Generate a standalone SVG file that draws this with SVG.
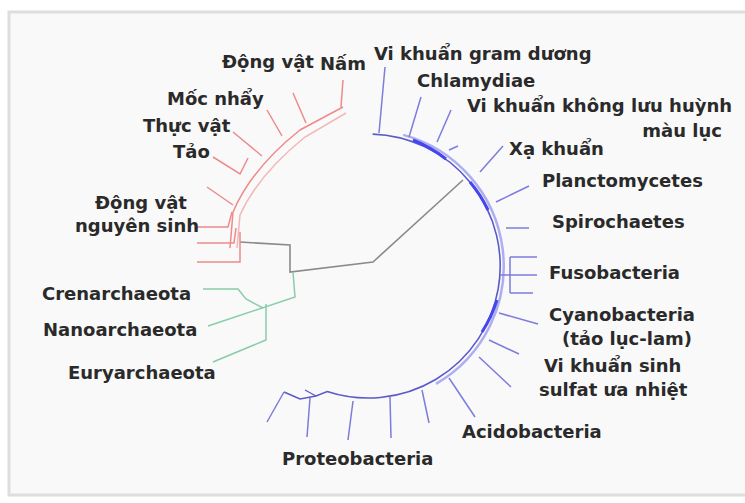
<svg xmlns="http://www.w3.org/2000/svg" width="745" height="503" viewBox="0 0 745 503">
<style>
text{font-family:"DejaVu Sans","Liberation Sans",sans-serif;font-weight:bold;font-size:18px;fill:#2a2a2a}
.r{fill:none;stroke:#ee8a8a;stroke-width:1.5}
.g{fill:none;stroke:#88ccaa;stroke-width:1.5}
.b{fill:none;stroke:#7c7cdc;stroke-width:1.5}
.k{fill:none;stroke:#8a8a8a;stroke-width:1.6}
</style>
<rect x="0" y="0" width="745" height="503" fill="#ffffff"/>
<rect x="9" y="12" width="745" height="483" fill="#f9f9f9" stroke="#dedede" stroke-width="3"/>
<g id="connectors">
  <!-- root / gray -->
  <path class="k" d="M240 242 L290 245 L290 272 L373 262 L463 180"/>
  <!-- eukaryote backbone -->
  <path class="r" d="M230 248 L233 212 Q252 168 300 130 L343 107"/>
  <path class="r" stroke-opacity="0.6" d="M237 248 L240 215 Q258 175 305 137 L346 113"/>
  <path class="r" d="M341 107 L343 80"/>
  <path class="r" d="M293 93 L306 123"/>
  <path class="r" d="M267 110 L282 136"/>
  <path class="r" d="M233 132 L262 156"/>
  <path class="r" d="M213 157 L240 174 L248 158"/>
  <path class="r" d="M207 187 L233 205"/>
  <path class="r" d="M197 227 L228 227 L232 212"/>
  <path class="r" d="M197 243 L234 243 L236 228"/>
  <path class="r" d="M197 262 L240 262 L240 232"/>
  <!-- archaea -->
  <path class="g" d="M203 289 L238 289 L246 299 L263 308"/>
  <path class="g" d="M208 326 L295 297 L293 272"/>
  <path class="g" d="M213 362 L266 340 L266 304"/>
  <!-- bacteria arc -->
  <path fill="none" stroke="#5a5ac8" stroke-width="1.6" d="M372.6 134.1 A132 132 0 1 1 327.2 391.5 L316 396 L300 399 L284 392"/>
  <path fill="none" stroke="#5a5ac8" stroke-width="1.2" d="M305 390 L316 396"/>
  <path fill="none" stroke="#8d8df0" stroke-width="2.5" stroke-opacity="0.7" d="M403.2 134.9 A136 136 0 0 1 436 383.8"/>
  <path fill="none" stroke="#4646ee" stroke-width="3" d="M413 140 A132 132 0 0 1 446 159 M470 182 A132 132 0 0 1 488 210 M497 300 A132 132 0 0 1 482 332"/>
  <path class="b" d="M379 133 L385 67"/>
  <path class="b" d="M409 137 L421 97"/>
  <path class="b" d="M437 142 L451 110 M449 150 L458 146"/>
  <path class="b" d="M480 172 L503 146"/>
  <path class="b" d="M496 202 L529 186"/>
  <path class="b" d="M506 228 L529 228"/>
  <path class="b" d="M500 275 L510 275 M510 257 L510 293 M510 257 L537 257 M510 275 L537 275 M510 293 L533 293"/>
  <path class="b" d="M499 313 L538 324"/>
  <path class="b" d="M489 340 L519 354"/>
  <path class="b" d="M479 357 L511 387"/>
  <path class="b" d="M449 378 L475 417"/>
  <path class="b" d="M422 390 L429 423"/>
  <path class="b" d="M390 397 L391 438"/>
  <path class="b" d="M353 401 L348 440"/>
  <path class="b" d="M310 398 L307 437"/>
  <path class="b" d="M284 392 L267 422"/>
</g>
<g id="nam"><text x="320" y="70" font-size="17">Nấm</text></g>
<g id="dongvat"><text x="222" y="68">Động vật</text></g>
<g id="mocnhay"><text x="167" y="105">Mốc nhẩy</text></g>
<g id="thucvat"><text x="143" y="132">Thực vật</text></g>
<g id="tao"><text x="173" y="158">Tảo</text></g>
<g id="dvns"><text x="95" y="209">Động vật</text><text x="75" y="232">nguyên sinh</text></g>
<g id="crenarchaeota"><text x="42" y="300">Crenarchaeota</text></g>
<g id="nanoarchaeota"><text x="43" y="336">Nanoarchaeota</text></g>
<g id="euryarchaeota"><text x="68" y="379">Euryarchaeota</text></g>
<g id="proteobacteria"><text x="282" y="465">Proteobacteria</text></g>
<g id="acidobacteria"><text x="462" y="438">Acidobacteria</text></g>
<g id="sulfat"><text x="544" y="372">Vi khuẩn sinh</text><text x="539" y="396">sulfat ưa nhiệt</text></g>
<g id="cyanobacteria"><text x="549" y="321">Cyanobacteria</text><text x="562" y="345">(tảo lục-lam)</text></g>
<g id="fusobacteria"><text x="549" y="279">Fusobacteria</text></g>
<g id="spirochaetes"><text x="552" y="228">Spirochaetes</text></g>
<g id="planctomycetes"><text x="542" y="187">Planctomycetes</text></g>
<g id="xakhuan"><text x="509" y="155">Xạ khuẩn</text></g>
<g id="luuhuynh"><text x="467" y="112" font-size="17.4">Vi khuẩn không lưu huỳnh</text><text x="722" y="137" text-anchor="end">màu lục</text></g>
<g id="chlamydiae"><text x="417" y="87">Chlamydiae</text></g>
<g id="gramduong"><text x="374" y="60" font-size="17.3">Vi khuẩn gram dương</text></g>
</svg>
